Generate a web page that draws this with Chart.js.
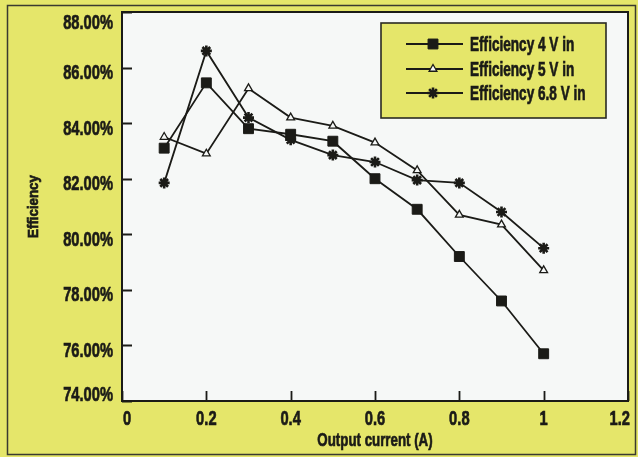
<!DOCTYPE html>
<html>
<head>
<meta charset="utf-8">
<script src="https://cdn.jsdelivr.net/npm/chart.js@4/dist/chart.umd.min.js"></script>
<style>
  html, body { margin: 0; padding: 0; background: #e6e66c; }
  canvas { display: block; }
</style>
</head>
<body>
<canvas id="chart" width="638" height="457"></canvas>
<script>
// Output current (A) for each measurement
const currents = [0.1, 0.2, 0.3, 0.4, 0.5, 0.6, 0.7, 0.8, 0.9, 1.0];

// Efficiency (%) at each input voltage
const eff4V  = [83.1, 85.45, 83.8, 83.6, 83.35, 82.0, 80.9, 79.2, 77.6, 75.7];
const eff5V  = [83.5, 82.9, 85.25, 84.2, 83.9, 83.3, 82.3, 80.7, 80.35, 78.7];
const eff68V = [81.85, 86.6, 84.2, 83.4, 82.85, 82.6, 81.95, 81.85, 80.8, 79.5];

const seriesLabels = ['Efficiency 4 V in', 'Efficiency 5 V in', 'Efficiency 6.8 V in'];
const xTitle = 'Output current (A)';
const yTitle = 'Efficiency';

// Axis ranges
const yMin = 74, yMax = 88, yStep = 2;
const xMin = 0, xMax = 1.2, xStep = 0.2;

const FONT = "'Liberation Sans', Arial, sans-serif";
const INK = '#1b1b17';
const YELLOW = '#e5e66a';
const PAPER = '#f6f8f7';

const toPoints = vals => currents.map((c, i) => ({ x: c, y: vals[i] }));
const fmtX = v => String(Number(v.toFixed(1)));
const fmtY = v => v.toFixed(2) + '%';

const markerStyles = [
  { pointStyle: 'rect', pointRadius: 7, pointBackgroundColor: INK, pointBorderColor: INK, pointBorderWidth: 1 },
  { pointStyle: 'triangle', pointRadius: 4.5, pointBackgroundColor: PAPER, pointBorderColor: INK, pointBorderWidth: 1.3 },
  { pointStyle: 'star', pointRadius: 5.5, pointBackgroundColor: INK, pointBorderColor: INK, pointBorderWidth: 2.6 }
];

const datasets = [eff4V, eff5V, eff68V].map((vals, i) => Object.assign({
  label: seriesLabels[i],
  data: toPoints(vals),
  borderColor: INK,
  borderWidth: 1.8,
  fill: false,
  tension: 0
}, markerStyles[i]));

// Condensed heavy text: Liberation Sans Bold squeezed horizontally.
// (x, y) is the anchor on the visual centre line of the capitals.
function condensedText(ctx, text, x, y, size, squeeze, align, rotation) {
  ctx.save();
  ctx.translate(x, y);
  if (rotation) ctx.rotate(rotation);
  ctx.scale(squeeze, 1);
  ctx.font = 'bold ' + size + 'px ' + FONT;
  ctx.fillStyle = INK;
  ctx.strokeStyle = INK;
  ctx.lineWidth = 0.7;
  ctx.textAlign = align;
  ctx.textBaseline = 'alphabetic';
  const by = size * 0.716 / 2;
  ctx.fillText(text, 0, by);
  ctx.strokeText(text, 0, by);
  ctx.restore();
}
function condensedWidth(ctx, text, size, squeeze) {
  ctx.save();
  ctx.font = 'bold ' + size + 'px ' + FONT;
  const w = ctx.measureText(text).width * squeeze;
  ctx.restore();
  return w;
}

// Frame, plot panel, inward tick marks, axis text and the boxed key
const decorations = {
  id: 'decorations',
  beforeDraw(chart) {
    const { ctx, width, height, chartArea: a } = chart;
    ctx.save();
    ctx.fillStyle = YELLOW;
    ctx.fillRect(0, 0, width, height);
    ctx.strokeStyle = '#3a3a30';
    ctx.lineWidth = 1.5;
    ctx.strokeRect(7.5, 5.5, width - 10, height - 8);
    ctx.fillStyle = PAPER;
    ctx.fillRect(a.left, a.top, a.right - a.left, a.bottom - a.top);
    ctx.restore();
  },
  afterDatasetsDraw(chart) {
    const { ctx, chartArea: a, scales } = chart;
    ctx.save();
    ctx.strokeStyle = INK;
    ctx.lineWidth = 1.8;

    // inward tick marks
    const tickLen = 10;
    ctx.beginPath();
    scales.y.ticks.forEach(t => {
      const py = Math.round(scales.y.getPixelForValue(t.value)) + 0.5;
      ctx.moveTo(a.left, py);
      ctx.lineTo(a.left + tickLen, py);
    });
    scales.x.ticks.forEach(t => {
      const px = Math.round(scales.x.getPixelForValue(t.value)) + 0.5;
      ctx.moveTo(px, a.bottom);
      ctx.lineTo(px, a.bottom - tickLen);
    });
    ctx.stroke();

    // plot border
    ctx.lineWidth = 2;
    ctx.strokeRect(a.left, a.top, a.right - a.left, a.bottom - a.top);

    // y tick labels, kept inside the plot's vertical span
    const tSize = 21, tSq = 0.70;
    scales.y.ticks.forEach(t => {
      const py = scales.y.getPixelForValue(t.value);
      const cy = Math.min(Math.max(py + 4, a.top + 9), a.bottom - 8);
      condensedText(ctx, fmtY(t.value), a.left - 9, cy, tSize, tSq, 'right');
    });
    // x tick labels, kept inside the plot's horizontal span
    scales.x.ticks.forEach(t => {
      const px = scales.x.getPixelForValue(t.value);
      const label = fmtX(t.value);
      const w = condensedWidth(ctx, label, tSize, tSq);
      const cx = Math.min(Math.max(px, a.left + w / 2 + 1), a.right + 2 - w / 2);
      condensedText(ctx, label, cx, a.bottom + 16, tSize, tSq, 'center');
    });

    // axis titles
    condensedText(ctx, xTitle, (a.left + a.right) / 2, 439, 19, 0.70, 'center');
    condensedText(ctx, yTitle, 33, (a.top + a.bottom) / 2, 14, 0.95, 'center', -Math.PI / 2);

    // key box
    const bx = 381, by = 23, bw = 225, bh = 95;
    ctx.fillStyle = YELLOW;
    ctx.fillRect(bx, by, bw, bh);
    ctx.lineWidth = 1.6;
    ctx.strokeStyle = '#2a2a22';
    ctx.strokeRect(bx, by, bw, bh);
    const rows = [44, 69, 93];
    chart.data.datasets.forEach((ds, i) => {
      const y = rows[i];
      ctx.strokeStyle = INK;
      ctx.lineWidth = 1.8;
      ctx.beginPath();
      ctx.moveTo(406, y);
      ctx.lineTo(463, y);
      ctx.stroke();
      ctx.fillStyle = ds.pointBackgroundColor;
      ctx.strokeStyle = ds.pointBorderColor;
      ctx.lineWidth = ds.pointBorderWidth;
      Chart.helpers.drawPoint(ctx, {
        pointStyle: ds.pointStyle,
        radius: ds.pointRadius,
        rotation: 0,
        borderWidth: ds.pointBorderWidth
      }, 433, y);
      condensedText(ctx, ds.label, 470, y, 20, 0.68, 'left');
    });
    ctx.restore();
  }
};

new Chart(document.getElementById('chart'), {
  type: 'line',
  data: { datasets },
  options: {
    responsive: false,
    animation: false,
    events: [],
    layout: { padding: { left: 0, top: 12, right: 10, bottom: 0 } },
    plugins: {
      legend: { display: false },
      tooltip: { enabled: false }
    },
    scales: {
      x: {
        type: 'linear',
        min: xMin, max: xMax,
        afterFit(scale) {
          scale.height = 56;
          scale.paddingLeft = 0;
          scale.paddingRight = 0;
        },
        grid: { display: false, drawTicks: false },
        border: { display: false },
        ticks: { stepSize: xStep, display: false },
        title: { display: false }
      },
      y: {
        min: yMin, max: yMax,
        afterFit(scale) {
          scale.width = 122;
          scale.paddingTop = 0;
          scale.paddingBottom = 0;
        },
        grid: { display: false, drawTicks: false },
        border: { display: false },
        ticks: { stepSize: yStep, display: false },
        title: { display: false }
      }
    }
  },
  plugins: [decorations]
});
</script>
</body>
</html>
